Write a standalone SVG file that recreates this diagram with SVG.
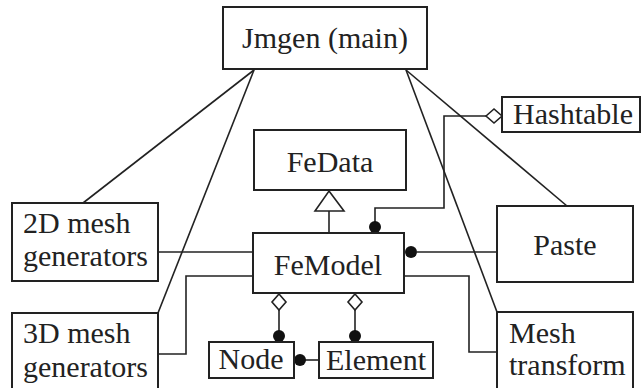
<svg xmlns="http://www.w3.org/2000/svg" width="642" height="388" viewBox="0 0 642 388">
<style>
.box{fill:#fff;stroke:#222;stroke-width:2}
.ln{fill:none;stroke:#222;stroke-width:1.6}
.dia{fill:#fff;stroke:#222;stroke-width:1.6}
.dot{fill:#111}
text{font-family:'Liberation Serif','Times New Roman','DejaVu Serif',serif;font-size:30px;fill:#222}
</style>
<rect width="642" height="388" fill="#fff"/>
<g id="connectors">
<line class="ln" x1="254" y1="70" x2="83" y2="203"/>
<line class="ln" x1="254" y1="70" x2="158" y2="313"/>
<line class="ln" x1="406" y1="70" x2="567" y2="206"/>
<line class="ln" x1="406" y1="70" x2="497" y2="312"/>
<line class="ln" x1="158" y1="252" x2="253" y2="252"/>
<polyline class="ln" points="253,276 186,276 186,354 158,354"/>
<polyline class="ln" points="404,276 469,276 469,352 497,352"/>
<line class="ln" x1="417" y1="252" x2="497" y2="252"/>
<circle class="dot" cx="411" cy="252" r="6"/>
<line class="ln" x1="329" y1="211" x2="329" y2="233"/>
<polygon class="dia" points="329,191 344,211 315,211"/>
<polyline class="ln" points="486,116 444,116 444,208 375,208 375,222"/>
<polygon class="dia" points="486,116 494,109 502,116 494,123"/>
<circle class="dot" cx="375" cy="227" r="6"/>
<line class="ln" x1="279" y1="310" x2="279" y2="332"/>
<polygon class="dia" points="279,294 286,302 279,310 272,302"/>
<circle class="dot" cx="279" cy="336" r="6"/>
<line class="ln" x1="355" y1="310" x2="355" y2="332"/>
<polygon class="dia" points="355,294 362,302 355,310 348,302"/>
<circle class="dot" cx="355" cy="336" r="6"/>
<line class="ln" x1="304" y1="360" x2="319" y2="360"/>
<circle class="dot" cx="300" cy="360" r="6"/>
</g>
<g id="jmgen"><rect class="box" x="223" y="7" width="204" height="62"/><text x="325" y="48" text-anchor="middle" font-family="Liberation Serif">Jmgen (main)</text></g>
<g id="hashtable"><rect class="box" x="502" y="97" width="138" height="35"/><text x="513" y="124">Hashtable</text></g>
<g id="fedata"><rect class="box" x="254" y="130" width="152" height="60"/><text x="330" y="172" text-anchor="middle">FeData</text></g>
<g id="mesh2d"><rect class="box" x="12" y="203" width="146" height="78"/><text x="23" y="233">2D mesh</text><text x="23" y="266">generators</text></g>
<g id="femodel"><rect class="box" x="253" y="233" width="151" height="60"/><text x="328" y="275" text-anchor="middle">FeModel</text></g>
<g id="paste"><rect class="box" x="497" y="206" width="136" height="76"/><text x="565" y="255" text-anchor="middle">Paste</text></g>
<g id="mesh3d"><rect class="box" x="12" y="313" width="146" height="80"/><text x="23" y="343">3D mesh</text><text x="23" y="377">generators</text></g>
<g id="meshtransform"><rect class="box" x="497" y="312" width="136" height="80"/><text x="509" y="343">Mesh</text><text x="509" y="375">transform</text></g>
<g id="node"><rect class="box" x="209" y="342" width="85" height="36"/><text x="251" y="369" text-anchor="middle">Node</text></g>
<g id="element"><rect class="box" x="319" y="342" width="114" height="36"/><text x="376" y="370" text-anchor="middle">Element</text></g>
</svg>
